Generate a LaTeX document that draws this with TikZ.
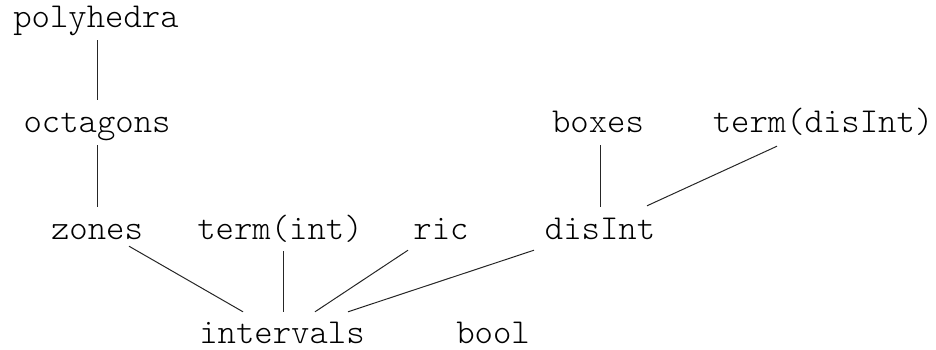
\documentclass[tikz,border=0pt]{standalone}
\usepackage{fontspec}
\setmonofont{Latin Modern Mono Light}
\usetikzlibrary{calc}
\begin{document}
\begin{tikzpicture}[x=1pt,y=-1pt,
  lattice/.style={anchor=base,inner sep=0pt,text height=32pt,text depth=13pt,
    font=\ttfamily\fontsize{35}{40}\selectfont},
  link/.style={line width=1pt,draw=black!85}]
\useasboundingbox (0,0) rectangle (936,350);

% lattice elements, placed by baseline
\node[lattice] (polyhedra) at (96,28)  {polyhedra};
\node[lattice] (octagons)  at (97,132) {octagons};
\node[lattice] (boxes)     at (598,132) {boxes};
\node[lattice] (termdis)   at (823,132) {term(disInt)};
\node[lattice] (zones)     at (97,239) {zones};
\node[lattice] (termint)   at (280,239) {term(int)};
\node[lattice] (ric)       at (441,239) {ric};
\node[lattice] (disInt)    at (600,239) {disInt};
\node[lattice] (intervals) at (282,343) {intervals};
\node[lattice] (bool)      at (493,343) {bool};

% order relations
\draw[link] ($(polyhedra.south)+(1,-1)$) -- (octagons.north);
\draw[link] (octagons.south) -- (zones.north);
\draw[link] ($(zones.south)+(32,-6)$) -- ($(intervals.north)+(-39,1)$);
\draw[link] ($(termint.south)+(3,-1)$) -- ($(intervals.north)+(1,1)$);
\draw[link] ($(ric.south)+(-33,-2)$) -- ($(intervals.north)+(33,1)$);
\draw[link] ($(disInt.south)+(-66,-2)$) -- ($(intervals.north)+(66,1)$);
\draw[link] (disInt.north) -- (disInt.north |- boxes.south);
\draw[link] ($(termdis.south)+(-46,1)$) -- ($(disInt.north)+(47,-1)$);
\end{tikzpicture}
\end{document}
